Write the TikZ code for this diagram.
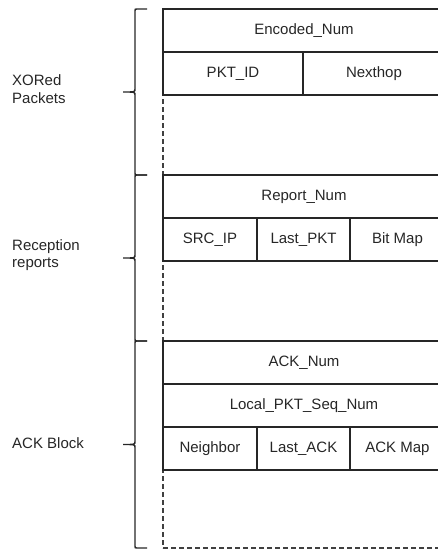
\documentclass[tikz,border=0pt]{standalone}
\usepackage{fontspec}
\setmainfont{Liberation Sans}
\usetikzlibrary{calc}

\begin{document}
\begin{tikzpicture}[x=1pt,y=-1pt]
\tikzstyle{cell}=[draw=black!85, line width=1.5pt, anchor=north west, inner sep=0pt, outer sep=0pt, minimum height=43pt, font=\fontsize{15}{17.3}\selectfont, text=black!85]
\tikzstyle{gap}=[draw=black!75, line width=1.3pt, dash pattern=on 5pt off 3pt, anchor=north west, inner sep=0pt, outer sep=0pt, minimum width=282pt]
\tikzstyle{side}=[anchor=west, align=left, inner sep=0pt, font=\fontsize{15}{17.3}\selectfont, text=black!85]
\tikzstyle{curly}=[draw=black!85, line width=1.4pt, to path={let \p1=(\tikztostart), \p2=(\tikztotarget), \p3=($(\p1)!0.5!(\p2)$) in
  (\tikztostart) -- (\x1-10pt,\y1) .. controls (\x1-12pt,\y1) .. (\x1-12pt,\y1-2pt)
  -- (\x1-12pt,\y3+3pt) .. controls (\x1-12pt,\y3) .. (\x1-24pt,\y3)
  .. controls (\x1-12pt,\y3) .. (\x1-12pt,\y3-3pt)
  -- (\x1-12pt,\y2+2pt) .. controls (\x1-12pt,\y2) .. (\x1-10pt,\y2) -- (\tikztotarget)}]

\useasboundingbox (0,0) rectangle (438,549);
\clip (0,0) rectangle (438,549);

% XORed packets
\draw (163,95) node[gap, minimum height=80pt] (gap1) {};
\draw (163,9) node[cell, minimum width=282pt] (enc) {Encoded\_Num};
\draw (163,52) node[cell, minimum width=140pt] (pktid) {PKT\_ID};
\draw (303,52) node[cell, minimum width=142pt] (nexthop) {Nexthop};

% reception reports
\draw (163,261) node[gap, minimum height=80pt] (gap2) {};
\draw (163,175) node[cell, minimum width=282pt] (repnum) {Report\_Num};
\draw (163,218) node[cell, minimum width=94pt] (srcip) {SRC\_IP};
\draw (257,218) node[cell, minimum width=93pt] (lastpkt) {Last\_PKT};
\draw (350,218) node[cell, minimum width=95pt] (bitmap) {Bit Map};

% ACK block
\draw (163,470) node[gap, minimum height=78pt] (gap3) {};
\draw (163,341) node[cell, minimum width=282pt] (acknum) {ACK\_Num};
\draw (163,384) node[cell, minimum width=282pt] (seqnum) {Local\_PKT\_Seq\_Num};
\draw (163,427) node[cell, minimum width=94pt] (neigh) {Neighbor};
\draw (257,427) node[cell, minimum width=93pt] (lastack) {Last\_ACK};
\draw (350,427) node[cell, minimum width=95pt] (ackmap) {ACK Map};

% braces and labels
\draw[curly] ([xshift=-16pt]enc.north west) to ([xshift=-16pt]gap1.south west);
\draw[curly] ([xshift=-16pt]repnum.north west) to ([xshift=-16pt]gap2.south west);
\draw[curly] ([xshift=-16pt]acknum.north west) to ([xshift=-16pt]gap3.south west);

\draw (12,89) node[side] (xored) {XORed\\Packets};
\draw (12,255) node[side] (recep) {Reception\\reports};
\draw (12,443) node[side] (ackblk) {ACK Block};
\end{tikzpicture}
\end{document}
